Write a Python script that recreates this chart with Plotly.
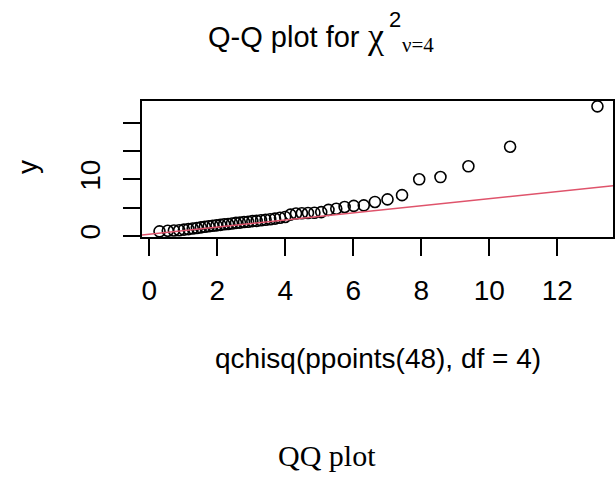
import plotly.graph_objects as go

# ---- data ----
# theoretical quantiles: qchisq(ppoints(48), df = 4)
theoretical_q = [0.304, 0.547, 0.727, 0.882, 1.023, 1.155, 1.281, 1.403, 1.521, 1.637,
                 1.752, 1.866, 1.979, 2.093, 2.206, 2.320, 2.435, 2.552, 2.669, 2.789,
                 2.910, 3.034, 3.161, 3.291, 3.424, 3.560, 3.701, 3.847, 3.998, 4.155,
                 4.319, 4.490, 4.670, 4.859, 5.060, 5.273, 5.502, 5.748, 6.016, 6.311,
                 6.639, 7.009, 7.436, 7.941, 8.566, 9.388, 10.614, 13.182]
# sorted sample values (y)
sample_y = [0.8, 0.9, 0.95, 1.0, 1.1, 1.2, 1.3, 1.4, 1.5, 1.6,
            1.7, 1.8, 1.85, 1.95, 2.05, 2.1, 2.2, 2.3, 2.35, 2.45,
            2.5, 2.6, 2.65, 2.75, 2.85, 2.95, 3.05, 3.2, 3.35, 3.75,
            3.95, 4.0, 4.05, 4.1, 4.2, 4.6, 4.8, 5.1, 5.3, 5.4,
            6.0, 6.45, 7.2, 10.0, 10.4, 12.3, 15.75, 22.9]
# reference line (qqline) end points
line_x = [-0.211, 13.697]
line_y = [0.15, 8.9]

x_ticks = [0, 2, 4, 6, 8, 10, 12]
y_ticks = [0, 5, 10, 15, 20]
y_tick_text = ["0", "", "10", "", ""]

title_main = "Q-Q plot for"
title_chi = "χ"
title_sup = "2"
title_sub = "ν=4"
x_label = "qchisq(ppoints(48), df = 4)"
y_label = "y"
caption = "QQ plot"

# ---- layout geometry ----
W, H = 615, 477
ML, MR, MT = 142, 2, 101
X_RANGE = [-0.211, 13.64]
Y_RANGE = [-0.2, 23.85]
PH = 135.9
MB = H - MT - PH
PW = W - ML - MR

def px(xp):
    return (xp - ML) / PW

def py(yp):
    return (MT + PH - yp) / PH

SANS = "Liberation Sans, Arial, sans-serif"
SERIF = "Liberation Serif, Times New Roman, serif"

fig = go.Figure()
fig.add_trace(go.Scatter(
    x=theoretical_q, y=sample_y, mode="markers",
    marker=dict(symbol="circle-open", size=11, color="black", line=dict(width=1.6)),
    showlegend=False, hoverinfo="x+y"))
fig.add_trace(go.Scatter(
    x=line_x, y=line_y, mode="lines",
    line=dict(color="#DF536B", width=1.5),
    showlegend=False, hoverinfo="skip"))

axis_common = dict(
    showgrid=False, zeroline=False, showline=True, mirror=True,
    linecolor="black", linewidth=1.5, ticks="outside", ticklen=17,
    tickwidth=1.5, tickcolor="black", automargin=False,
    tickfont=dict(family=SANS, size=28, color="black"))

fig.update_xaxes(range=X_RANGE, tickmode="array", tickvals=x_ticks,
                 ticklabelstandoff=11, **axis_common)
fig.update_yaxes(range=Y_RANGE, tickmode="array", tickvals=y_ticks,
                 ticktext=y_tick_text, tickangle=-90, ticklabelstandoff=12,
                 **axis_common)

ann = []
ann.append(dict(text=title_main, x=px(206), y=py(37), xref="paper", yref="paper",
                xanchor="left", yanchor="middle", showarrow=False,
                font=dict(family=SANS, size=29, color="black")))
ann.append(dict(text=title_chi, x=px(365), y=py(36), xref="paper", yref="paper",
                xanchor="left", yanchor="middle", showarrow=False,
                font=dict(family=SERIF, size=36, color="black")))
ann.append(dict(text=title_sup, x=px(387), y=py(20), xref="paper", yref="paper",
                xanchor="left", yanchor="middle", showarrow=False,
                font=dict(family=SANS, size=22, color="black")))
ann.append(dict(text=title_sub, x=px(400), y=py(45), xref="paper", yref="paper",
                xanchor="left", yanchor="middle", showarrow=False,
                font=dict(family=SERIF, size=21, color="black")))
ann.append(dict(text=x_label, x=px(378), y=py(358), xref="paper", yref="paper",
                xanchor="center", yanchor="middle", showarrow=False,
                font=dict(family=SANS, size=28, color="black")))
ann.append(dict(text=y_label, x=px(27), y=py(167), xref="paper", yref="paper",
                xanchor="center", yanchor="middle", showarrow=False, textangle=-90,
                font=dict(family=SANS, size=28, color="black")))
ann.append(dict(text=caption, x=px(327), y=py(455), xref="paper", yref="paper",
                xanchor="center", yanchor="middle", showarrow=False,
                font=dict(family=SERIF, size=30, color="black")))

fig.update_layout(
    width=W, height=H, autosize=False,
    margin=dict(l=ML, r=MR, t=MT, b=MB, pad=0),
    paper_bgcolor="white", plot_bgcolor="white",
    annotations=ann, showlegend=False)

fig.write_html("out.html", config={"displayModeBar": False},
               post_script="document.body.style.margin='0';document.body.style.padding='0';")
